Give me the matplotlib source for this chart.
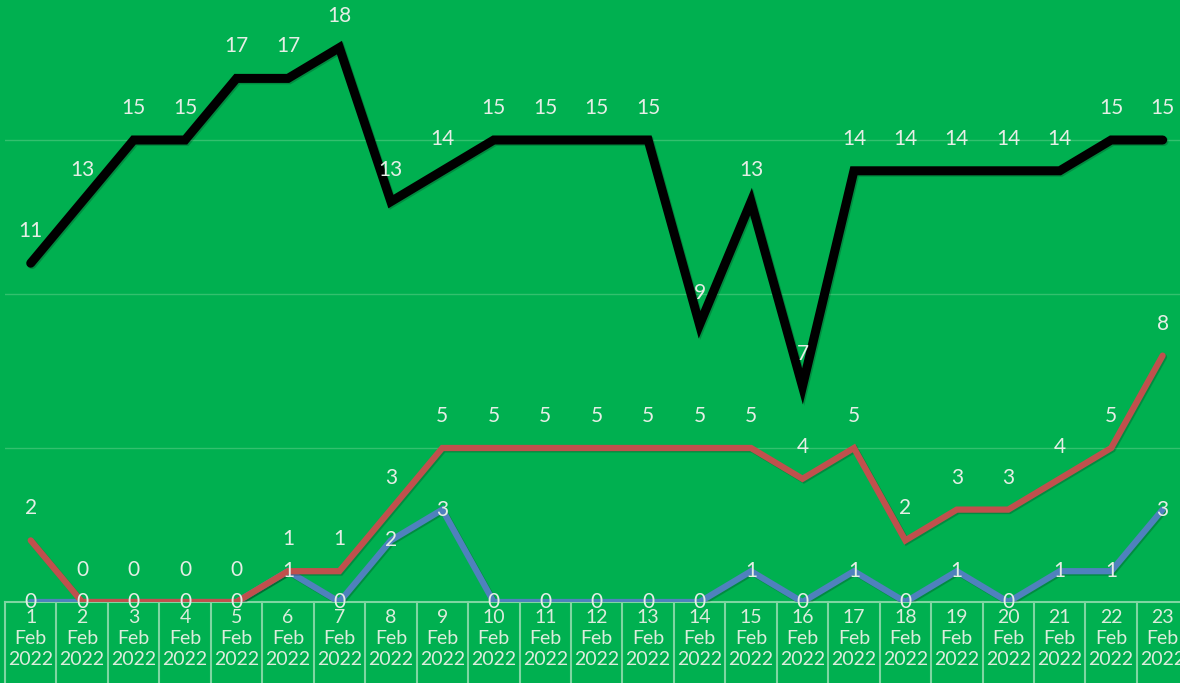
import matplotlib.pyplot as plt
import matplotlib.patheffects as pe
import numpy as np

# dates shown on the category axis
days = list(range(1, 24))
labels = [f'{d}\nFeb\n2022' for d in days]

# three series
black_vals = [11, 13, 15, 15, 17, 17, 18, 13, 14, 15, 15, 15, 15, 9, 13, 7, 14, 14, 14, 14, 14, 15, 15]
red_vals = [2, 0, 0, 0, 0, 1, 1, 3, 5, 5, 5, 5, 5, 5, 5, 4, 5, 2, 3, 3, 4, 5, 8]
blue_vals = [0, 0, 0, 0, 0, 1, 0, 2, 3, 0, 0, 0, 0, 0, 1, 0, 1, 0, 1, 0, 1, 1, 3]

bg = '#00B050'
txt = '#e6eee6'
plt.rcParams['font.family'] = ['Lato', 'DejaVu Sans']

fig = plt.figure(figsize=(11.8, 6.83), dpi=100, facecolor=bg)
ax = fig.add_axes([5 / 1180, 81 / 683, 1175 / 1180, 602 / 683])
ax.set_facecolor(bg)

x = np.arange(len(days))
shadow = [pe.SimpleLineShadow(offset=(1, -1), alpha=0.2), pe.Normal()]

ax.plot(x, blue_vals, color='#4F81BD', lw=4.5, solid_capstyle='round',
        solid_joinstyle='miter', path_effects=shadow, zorder=3)
ax.plot(x, red_vals, color='#C0504D', lw=4.5, solid_capstyle='round',
        solid_joinstyle='miter', path_effects=shadow, zorder=4)
ax.plot(x, black_vals, color='black', lw=6.5, solid_capstyle='round',
        solid_joinstyle='miter', path_effects=shadow, zorder=5)

# data labels: above for black/red, centred for blue
for xi, v in zip(x, black_vals):
    ax.annotate(str(v), (xi, v), xytext=(0, 23), textcoords='offset points',
                ha='center', va='center', color=txt, fontsize=15, zorder=6)
for xi, v in zip(x, red_vals):
    ax.annotate(str(v), (xi, v), xytext=(0, 23), textcoords='offset points',
                ha='center', va='center', color=txt, fontsize=15, zorder=6)
for xi, v in zip(x, blue_vals):
    ax.annotate(str(v), (xi, v), ha='center', va='center', color=txt,
                fontsize=15, zorder=6)

ax.set_xlim(-0.5, -0.5 + 1175 / 51.45)
ax.set_ylim(0, 602 / 30.8)
ax.set_yticks([5, 10, 15])
ax.yaxis.grid(True, color='#33c06e', lw=1)
ax.set_axisbelow(True)
ax.tick_params(axis='y', left=False, labelleft=False)

ax.set_xticks(x)
ax.set_xticklabels(labels, color='#dcecdc', fontsize=14, linespacing=1.3)
ax.tick_params(axis='x', length=0, pad=5)

for s in ['top', 'right', 'left']:
    ax.spines[s].set_visible(False)
ax.spines['bottom'].set_color('#7fd6a2')
ax.spines['bottom'].set_linewidth(1.5)

# category dividers below the axis
tr = ax.get_xaxis_transform()
for b in np.arange(-0.5, len(days), 1.0):
    ax.plot([b, b], [0, -0.2], transform=tr, color='#7fd6a2', lw=1.5, clip_on=False)

fig.savefig('out.png', dpi=100, facecolor=bg)
